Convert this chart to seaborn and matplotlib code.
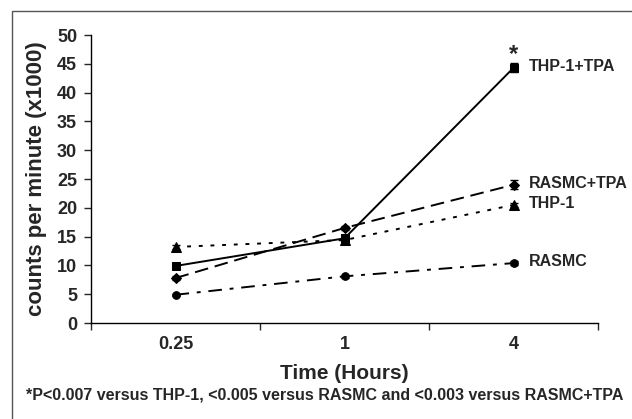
import numpy as np
import pandas as pd
import matplotlib
matplotlib.use("Agg")
import matplotlib.pyplot as plt
import seaborn as sns
from matplotlib.patches import Rectangle

times = ["0.25", "1", "4"]
series_names = ["THP-1+TPA", "RASMC+TPA", "THP-1", "RASMC"]
thp1_tpa = [9.9, 14.7, 44.3]
rasmc_tpa = [7.8, 16.5, 24.0]
thp1 = [13.2, 14.4, 20.5]
rasmc = [4.9, 8.1, 10.4]
thp1_tpa_err = [0.3, 0.5, 0.8]
rasmc_tpa_err = [0.3, 0.4, 0.8]
thp1_err = [0.3, 0.4, 0.4]
rasmc_err = [0.2, 0.3, 0.3]

sns.set_style("white")
plt.rcParams['font.family'] = ['Liberation Sans', 'DejaVu Sans']
plt.rcParams['font.weight'] = 'bold'

values = [thp1_tpa, rasmc_tpa, thp1, rasmc]
errors = [thp1_tpa_err, rasmc_tpa_err, thp1_err, rasmc_err]
markers = ["s", "D", "^", "o"]
marker_sizes = [6, 5.5, 6.5, 5.5]
dashes = [(None, None), (7, 3.5), (2, 4), (7, 4, 2, 4)]

fig = plt.figure(figsize=(6.32, 4.19), dpi=100)
ax = fig.add_axes([91 / 632, 1 - 323 / 419, (598 - 91) / 632, (323 - 35) / 419])

pos = np.arange(len(times))
for name, vals, err, mk, ms, ds in zip(series_names, values, errors, markers, marker_sizes, dashes):
    df = pd.DataFrame({"pos": pos, "val": vals})
    sns.lineplot(data=df, x="pos", y="val", ax=ax, color="black", lw=1.4,
                 marker=mk, markersize=ms, markeredgecolor="black")
    l = ax.lines[-1]
    if ds[0] is not None:
        l.set_dashes(ds)
    ax.errorbar(pos, vals, yerr=err, fmt="none", ecolor="black", elinewidth=1, capsize=3)
    ax.text(pos[-1] + 0.09, vals[-1] + 0.2, name, fontsize=11.5, fontweight="bold",
            va="center", ha="left")

ax.text(pos[-1], thp1_tpa[-1] + 2.3, "*", fontsize=17, ha="center", va="center")

ax.set_xlim(-0.5, 2.5)
ax.set_ylim(0, 50)
ax.set_yticks(np.arange(0, 51, 5))
ax.set_xticks(pos)
ax.set_xticklabels(times, fontsize=13, fontweight="bold")
ax.set_xticks([-0.5, 0.5, 1.5, 2.5], minor=True)
ax.tick_params(axis="x", which="major", length=0, pad=9)
ax.tick_params(axis="x", which="minor", length=5, width=1, direction="out", bottom=True)
ax.tick_params(axis="y", length=5, width=1, direction="out", left=True, labelsize=13, pad=5)
for lab in ax.get_yticklabels():
    lab.set_fontweight("bold")

ax.spines["top"].set_visible(False)
ax.spines["right"].set_visible(False)
for s in ["left", "bottom"]:
    ax.spines[s].set_color("black")
    ax.spines[s].set_linewidth(1)

ax.set_xlabel("Time (Hours)", fontsize=15, fontweight="bold", labelpad=8)
ax.set_ylabel("counts per minute (x1000)", fontsize=16, fontweight="bold", labelpad=7)

fig.text(325 / 632, 1 - 395 / 419,
         "*P<0.007 versus THP-1, <0.005 versus RASMC and <0.003 versus RASMC+TPA",
         fontsize=11.5, fontweight="bold", ha="center", va="center")

fig.patches.append(Rectangle((12 / 632, -0.1), 1.0, 1 - 11 / 419 + 0.1,
                             transform=fig.transFigure, fill=False,
                             edgecolor="#555555", lw=1))

fig.savefig("out.png", dpi=100)
